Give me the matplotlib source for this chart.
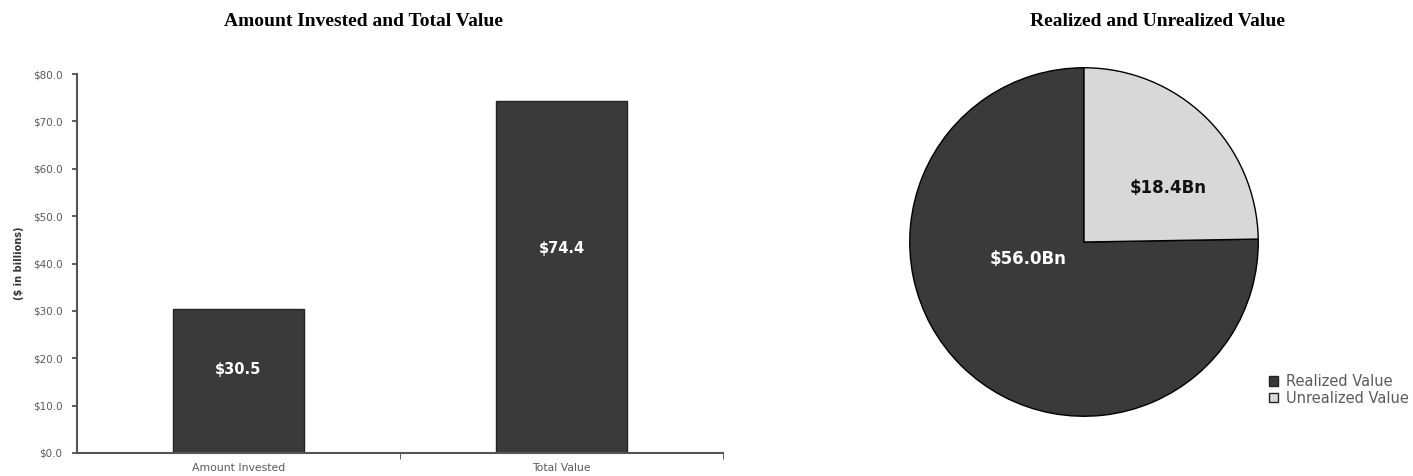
import matplotlib
matplotlib.use("Agg")
import matplotlib.pyplot as plt
from matplotlib.patches import Patch

# data
bar_categories = ["Amount Invested", "Total Value"]
bar_values = [30.5, 74.4]
bar_labels = ["$30.5", "$74.4"]
y_ticks = [0, 10, 20, 30, 40, 50, 60, 70, 80]

pie_categories = ["Realized Value", "Unrealized Value"]
pie_values = [56.0, 18.4]
pie_labels = ["$56.0Bn", "$18.4Bn"]

dark = "#3a3a3a"
light = "#d8d8d8"
grey_text = "#5a5a5a"

W, H = 1413, 476
plt.rcParams['font.family'] = ['DejaVu Sans']
fig = plt.figure(figsize=(W / 100, H / 100), dpi=100)

# bar chart
ax1 = fig.add_axes([77 / W, (H - 453) / H, (723 - 77) / W, (453 - 74) / H])
x = range(len(bar_categories))
bars = ax1.bar(x, bar_values, width=0.404, color=dark, edgecolor="#222222", linewidth=1)
for b, lab in zip(bars, bar_labels):
    ax1.text(b.get_x() + b.get_width() / 2, b.get_height() * 0.58, lab,
             ha="center", va="center", color="white", fontsize=10.5, fontweight="bold")
ax1.set_xlim(-0.5, 1.5)
ax1.set_ylim(0, 80)
ax1.set_yticks(y_ticks)
ax1.set_yticklabels(["$%.1f" % v for v in y_ticks], fontsize=7.5, color=grey_text)
ax1.set_xticks(list(x))
ax1.set_xticklabels(bar_categories, fontsize=7.8, color=grey_text)
ax1.tick_params(axis="x", length=0, pad=7)
ax1.set_xticks([0.5, 1.5], minor=True)
ax1.tick_params(axis="x", which="minor", length=4, color="#444444", direction="out")
ax1.tick_params(axis="y", length=3.5, width=1.2, color="#444444", direction="out", pad=7)
for s in ["top", "right"]:
    ax1.spines[s].set_visible(False)
for s in ["left", "bottom"]:
    ax1.spines[s].set_color("#555555")
    ax1.spines[s].set_linewidth(1.5)
ax1.set_ylabel("($ in billions)", fontsize=7, fontweight="bold", color="#333333", labelpad=6)
fig.text(364 / W, 1 - 21 / H, "Amount Invested and Total Value", ha="center", va="center",
         fontsize=14, fontweight="bold", family="Liberation Serif")

# pie chart
r = 176
ax2 = fig.add_axes([(1084 - r) / W, (H - 242 - r) / H, 2 * r / W, 2 * r / H])
wedges, _ = ax2.pie(pie_values, colors=[dark, light], startangle=90, counterclock=True,
                    wedgeprops=dict(edgecolor="black", linewidth=1))
ax2.set_xlim(-1.01, 1.01)
ax2.set_ylim(-1.01, 1.01)
ax2.text(-0.32, -0.10, pie_labels[0], ha="center", va="center", color="white",
         fontsize=12, fontweight="bold")
ax2.text(0.48, 0.31, pie_labels[1], ha="center", va="center", color="#111111",
         fontsize=12, fontweight="bold")
fig.text(1158 / W, 1 - 21 / H, "Realized and Unrealized Value", ha="center", va="center",
         fontsize=14, fontweight="bold", family="Liberation Serif")

handles = [Patch(facecolor=dark, edgecolor="#222222"), Patch(facecolor=light, edgecolor="#222222")]
fig.legend(handles, pie_categories, loc="center left", bbox_to_anchor=(1269 / W, 1 - 390 / H),
           frameon=False, fontsize=10.5, handlelength=0.6, handleheight=0.6, handletextpad=0.6,
           labelspacing=0.1, labelcolor=grey_text, borderaxespad=0, borderpad=0)

fig.savefig("out.png", dpi=100)
